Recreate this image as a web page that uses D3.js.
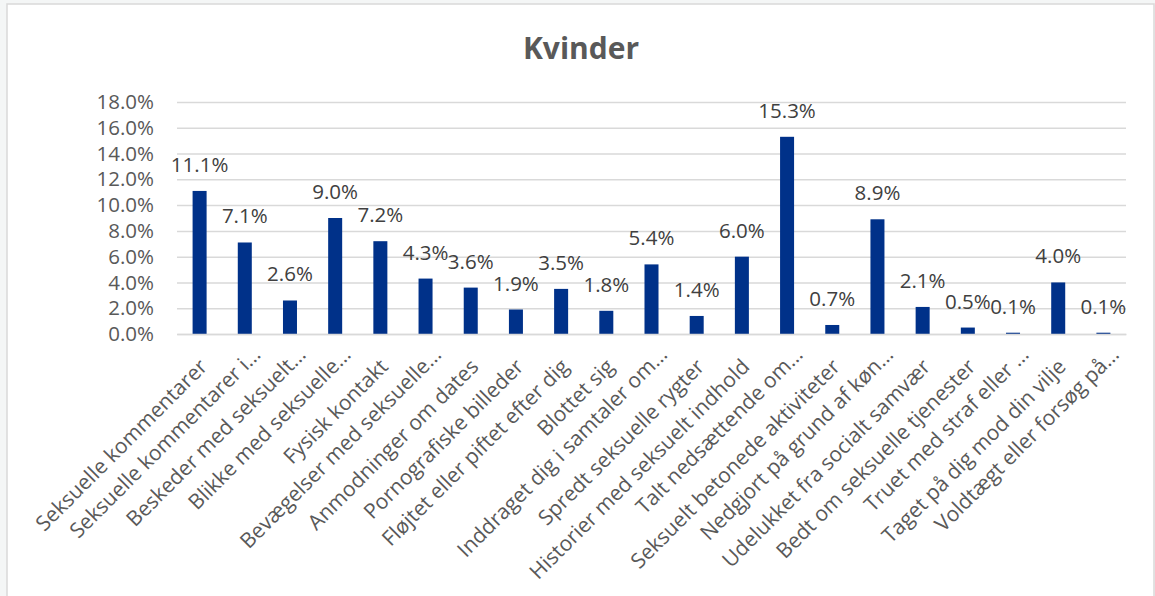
<!DOCTYPE html>
<html>
<head>
<meta charset="utf-8">
<script src="https://cdn.jsdelivr.net/npm/d3@7"></script>
<style>
  html, body { margin: 0; padding: 0; background: #f4f6f6; }
  svg { display: block; }
  text { font-family: "Open Sans", sans-serif; }
</style>
</head>
<body>
<svg id="chart" width="1155" height="596"></svg>
<script>
const title = "Kvinder";
const categories = [
  "Seksuelle kommentarer",
  "Seksuelle kommentarer i…",
  "Beskeder med seksuelt…",
  "Blikke med seksuelle…",
  "Fysisk kontakt",
  "Bevægelser med seksuelle…",
  "Anmodninger om dates",
  "Pornografiske billeder",
  "Fløjtet eller piftet efter dig",
  "Blottet sig",
  "Inddraget dig i samtaler om…",
  "Spredt seksuelle rygter",
  "Historier med seksuelt indhold",
  "Talt nedsættende om…",
  "Seksuelt betonede aktiviteter",
  "Nedgjort på grund af køn…",
  "Udelukket fra socialt samvær",
  "Bedt om seksuelle tjenester",
  "Truet med straf eller …",
  "Taget på dig mod din vilje",
  "Voldtægt eller forsøg på…"
];
const values = [11.1, 7.1, 2.6, 9.0, 7.2, 4.3, 3.6, 1.9, 3.5, 1.8, 5.4, 1.4, 6.0, 15.3, 0.7, 8.9, 2.1, 0.5, 0.1, 4.0, 0.1];
const yTicks = [0, 2, 4, 6, 8, 10, 12, 14, 16, 18];

const svg = d3.select("#chart");
const W = 1155, H = 596;
const plot = { left: 177, right: 1126, top: 102, bottom: 334 };

// chart frame
svg.append("rect")
  .attr("x", 7).attr("y", 4).attr("width", 1147).attr("height", H)
  .attr("fill", "#ffffff").attr("stroke", "#d9d9d9").attr("stroke-width", 1.5);

const x = d3.scaleBand().domain(categories).range([plot.left, plot.right]).paddingInner(0.69).paddingOuter(0.345);
const y = d3.scaleLinear().domain([0, 18]).range([plot.bottom, plot.top]);

// title
svg.append("text")
  .attr("x", 581).attr("y", 59)
  .attr("text-anchor", "middle")
  .attr("font-size", 30).attr("font-weight", 700)
  .attr("fill", "#595959")
  .text(title);

// gridlines + y labels
const yAxis = d3.axisLeft(y).tickValues(yTicks)
  .tickSize(-(plot.right - plot.left)).tickPadding(23)
  .tickFormat(d => d.toFixed(1) + "%");
const gy = svg.append("g").attr("transform", `translate(${plot.left},0)`).call(yAxis);
gy.select(".domain").remove();
gy.selectAll(".tick line").attr("stroke", "#d9d9d9").attr("stroke-width", 1.5);
gy.selectAll(".tick text").attr("font-size", 20.5).attr("fill", "#595959")
  .attr("font-family", "Open Sans, sans-serif");

// bars
svg.append("g").selectAll("rect").data(values).join("rect")
  .attr("x", (d, i) => x(categories[i]))
  .attr("width", x.bandwidth())
  .attr("y", d => y(d))
  .attr("height", d => y(0) - y(d))
  .attr("fill", "#003189");

// x axis line
const xAxis = d3.axisBottom(x).tickSize(0).tickFormat("");
const gx = svg.append("g").attr("transform", `translate(0,${plot.bottom})`).call(xAxis);
gx.select(".domain").attr("stroke", "#d9d9d9").attr("stroke-width", 1.5);

// value labels
svg.append("g").selectAll("text").data(values).join("text")
  .attr("x", (d, i) => x(categories[i]) + x.bandwidth() / 2)
  .attr("y", d => y(d) - 19)
  .attr("text-anchor", "middle")
  .attr("font-size", 20.5)
  .attr("fill", "#404040")
  .text(d => d.toFixed(1) + "%");

// category labels
svg.append("g").selectAll("text").data(categories).join("text")
  .attr("transform", d => {
    const cx = x(d) + x.bandwidth() / 2;
    const trunc = d.endsWith("…");
    return `translate(${cx + (trunc ? 17 : 9)},${trunc ? 356 : 368}) rotate(-45)`;
  })
  .attr("text-anchor", "end")
  .attr("font-size", 21)
  .attr("fill", "#595959")
  .text(d => d);
</script>
</body>
</html>
